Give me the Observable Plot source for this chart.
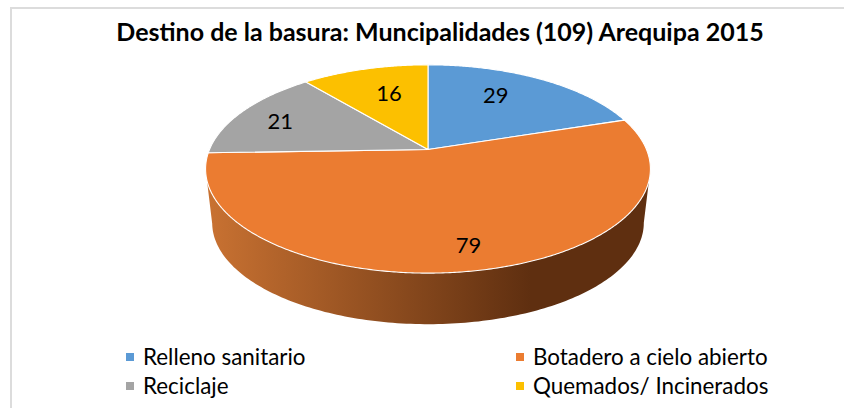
<!DOCTYPE html>
<html><head><meta charset="utf-8">
<script src="https://cdn.jsdelivr.net/npm/d3@7"></script>
<script src="https://cdn.jsdelivr.net/npm/@observablehq/plot@0.6"></script>
<style>
html,body{margin:0;padding:0;background:#fff;overflow:hidden}
#chart{position:relative;width:844px;height:408px;font-family:Lato,sans-serif;color:#000;overflow:hidden}
#frame{position:absolute;left:10px;top:7px;width:860px;height:420px;border-left:2px solid #dcdcdc;border-top:2px solid #dcdcdc;box-sizing:border-box}
#title{position:absolute;left:0;width:880px;top:16px;text-align:center;font-weight:700;font-size:25px;line-height:30px;margin:0}
#plot{position:absolute;left:0;top:50px}
.lg{position:absolute;font-size:22.4px;line-height:24px;white-space:nowrap}
.sw{position:absolute;width:8px;height:8px}
</style></head><body>
<div id="chart"><div id="frame"></div>
<h1 id="title"></h1><div id="plot"></div></div>
<script>
const titleText = "Destino de la basura: Muncipalidades (109) Arequipa 2015";
const categories = ["Relleno sanitario","Botadero a cielo abierto","Reciclaje","Quemados/ Incinerados"];
const values = [29,79,21,16];
const colors = ["#5b9ad5","#eb7c31","#a4a4a4","#fcc000"];
const labelRadius = [0.69,0.83,0.77,0.65];
const labelNudge = [-6,-1,-2,2];
const legendX = [126,516,126,516];
const legendY = [357,357,386,386];

// perspective pie geometry
const P = {cx:427.5, cy:99, A:100.5, B:218.5, k:0.187};          // top disc (svg y = page y - 50)
const L = {cx:427.5, cy:153.4, A:97.8, B:212, k:0.187};        // bottom disc
const project = (g, deg, r=1) => {
  const t = deg*Math.PI/180, u = r*Math.sin(t), v = -r*Math.cos(t), d = 1 - g.k*v;
  return {x: g.cx + g.B*u/d, y: g.cy + g.A*v/d};
};
const total = d3.sum(values);
const cum = d3.cumsum(values);
const startDeg = i => (i ? cum[i-1] : 0)/total*360;
const endDeg = i => cum[i]/total*360;

const slicePts = values.flatMap((v,i) => {
  const a = startDeg(i), b = endDeg(i), n = Math.ceil((b-a)*2);
  const pts = [{...project(P,0,0),i}];
  for (let j=0;j<=n;j++) pts.push({...project(P,a+(b-a)*j/n),i});
  pts.push({...project(P,0,0),i});
  return pts;
});
const tan = Math.acos(-P.k)*180/Math.PI;
const sidePts = [];
sidePts.push(project(P,tan));
for (let a=tan;a<=360-tan+0.01;a+=1) sidePts.push(project(L,a));
sidePts.push(project(P,360-tan));

const labels = values.map((v,i)=>({v,...project(P,(startDeg(i)+endDeg(i))/2+labelNudge[i],labelRadius[i])}));

const gradient = () => {
  const defs = d3.create("svg:defs");
  const g = defs.append("linearGradient").attr("id","sideGrad").attr("gradientUnits","userSpaceOnUse")
    .attr("x1",206).attr("x2",530).attr("y1",0).attr("y2",0);
  g.append("stop").attr("offset",0).attr("stop-color","#c97232");
  g.append("stop").attr("offset",1).attr("stop-color","#5f2f10");
  return defs.node();
};

const plot = Plot.plot({
  width:844, height:290, margin:0,
  x:{domain:[0,844],range:[0,844],axis:null},
  y:{domain:[0,290],range:[0,290],axis:null},
  marks:[
    gradient,
    Plot.line(sidePts,{x:"x",y:"y",fill:"url(#sideGrad)",stroke:"none",curve:"linear"}),
    Plot.line(slicePts,{x:"x",y:"y",z:"i",fill:d=>colors[d.i],stroke:"#fff",strokeWidth:1.1,strokeLinejoin:"round",curve:"linear"}),
    Plot.text(labels,{x:"x",y:"y",text:d=>String(d.v),fontSize:22,fontFamily:"Lato,sans-serif",fill:"#000"})
  ]
});
document.getElementById("plot").append(plot);
document.getElementById("title").textContent = titleText;
const chart = document.getElementById("chart");
categories.forEach((c,i)=>{
  const s=document.createElement("div");s.className="sw";s.style.cssText=`left:${legendX[i]}px;top:${legendY[i]-4}px;background:${colors[i]}`;chart.append(s);
  const t=document.createElement("div");t.className="lg";t.textContent=c;t.style.cssText=`left:${legendX[i]+17}px;top:${legendY[i]-12}px`;chart.append(t);
});
</script></body></html>
